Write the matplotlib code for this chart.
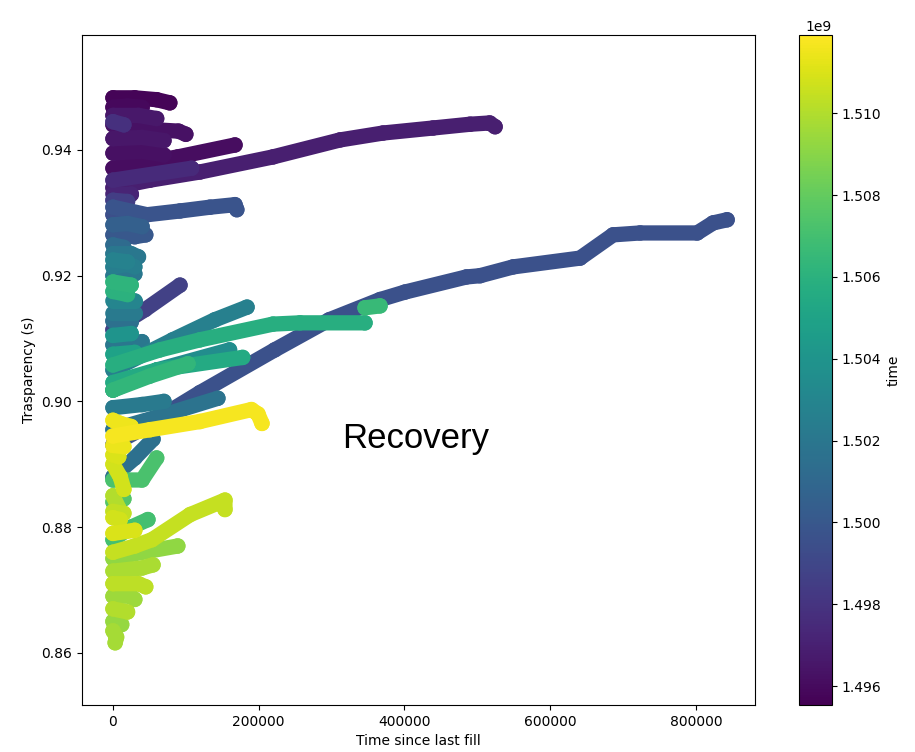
import numpy as np
import matplotlib
matplotlib.use('Agg')
import matplotlib.pyplot as plt
from matplotlib.colors import Normalize
from matplotlib.ticker import ScalarFormatter

# one entry per fill: fill start time (colour), time since last fill, transparency
fill_times = [1.4957e9, 1.4959e9, 1.4978e9, 1.4963e9, 1.4965e9, 1.4961e9, 1.4969e9, 1.4975e9,
              1.4962e9, 1.4972e9, 1.4985e9, 1.4998e9, 1.4995e9, 1.5005e9, 1.5000e9, 1.5012e9,
              1.5020e9, 1.5025e9, 1.5062e9, 1.5060e9, 1.5020e9, 1.4987e9, 1.5030e9, 1.5022e9,
              1.5015e9, 1.5020e9, 1.5050e9, 1.5026e9, 1.5058e9, 1.5066e9, 1.5035e9, 1.5055e9,
              1.5063e9, 1.5018e9, 1.5022e9, 1.4996e9, 1.5117e9, 1.5115e9, 1.5114e9, 1.5015e9,
              1.5072e9, 1.5108e9, 1.5110e9, 1.5100e9, 1.5075e9, 1.5108e9, 1.5070e9, 1.5105e9,
              1.5092e9, 1.5110e9, 1.5098e9, 1.5103e9, 1.5095e9, 1.5100e9, 1.5093e9, 1.5097e9,
              1.4966e9, 1.5028e9, 1.5040e9, 1.5104e9]

fill_x = [
    [0, 30000, 60000, 78000],
    [0, 20000, 40000],
    [0, 15000],
    [0, 30000, 60000, 90000, 100000],
    [0, 40000, 70000],
    [0, 89000, 167500],
    [0, 50800, 119400, 219600, 311600, 370600, 439300, 490100, 517000, 524400],
    [0, 108000],
    [0, 40000, 70000],
    [0, 25000],
    [0, 20000],
    [0, 46700, 92000, 133200, 167500, 170000],
    [0, 30000],
    [0, 20000, 40000],
    [0, 30000, 45000],
    [0, 15000],
    [0, 25000, 35000],
    [0, 20000, 30000],
    [0, 25000],
    [0, 20000],
    [0, 30000],
    [0, 44000, 92000],
    [0, 30000],
    [0, 30000],
    [0, 25000],
    [0, 40000],
    [0, 30000],
    [0, 82000, 140000, 184000],
    [0, 64500, 119400, 219600, 256700, 345900],
    [345900, 366500],
    [0, 60000, 160000],
    [0, 60000, 178000],
    [0, 50000, 103000],
    [0, 60000, 144000],
    [0, 40000, 70000],
    [0, 50000, 75500, 119400, 222000, 297000, 366500, 400800, 485000, 503800, 549100,
     641000, 686300, 723400, 801700, 823600, 842800],
    [0, 50800, 119400, 190000, 199000, 204500],
    [0, 10000, 25000],
    [0, 15000],
    [0, 30000, 55000],
    [0, 40000, 60000],
    [0, 10000, 15000],
    [0, 8000],
    [0, 8000],
    [0, 15000],
    [0, 10000],
    [0, 25000, 48000],
    [0, 30000, 53500, 106000, 153700, 153700],
    [0, 40000, 89000],
    [0, 30000],
    [0, 40000, 55000],
    [0, 35000, 45000],
    [0, 25000, 30000],
    [0, 20000],
    [0, 12000],
    [0, 5000, 3000],
    [0, 35000, 60000],
    [0, 20000],
    [0, 25000],
    [0, 15000],
]

fill_y = [
    [0.9483, 0.9483, 0.9480, 0.9475],
    [0.9468, 0.9470, 0.9468],
    [0.9445, 0.9440],
    [0.9440, 0.9438, 0.9432, 0.9430, 0.9425],
    [0.9418, 0.9420, 0.9415],
    [0.9371, 0.9389, 0.9408],
    [0.9340, 0.9352, 0.9365, 0.9389, 0.9416, 0.9427, 0.9435, 0.9441, 0.9443, 0.9437],
    [0.9352, 0.9371],
    [0.9395, 0.9398, 0.9392],
    [0.9330, 0.9330],
    [0.9320, 0.9318],
    [0.9309, 0.9297, 0.9303, 0.9309, 0.9313, 0.9305],
    [0.9297, 0.9295],
    [0.9281, 0.9283, 0.9278],
    [0.9265, 0.9262, 0.9265],
    [0.9249, 0.9245],
    [0.9235, 0.9235, 0.9230],
    [0.9214, 0.9218, 0.9214],
    [0.9190, 0.9185],
    [0.9175, 0.9170],
    [0.9200, 0.9203],
    [0.9114, 0.9146, 0.9185],
    [0.9160, 0.9160],
    [0.9140, 0.9140],
    [0.9128, 0.9126],
    [0.9090, 0.9095],
    [0.9075, 0.9078],
    [0.9050, 0.9098, 0.9130, 0.9150],
    [0.9058, 0.9082, 0.9098, 0.9123, 0.9125, 0.9125],
    [0.9149, 0.9152],
    [0.9018, 0.9050, 0.9082],
    [0.9030, 0.9050, 0.9070],
    [0.9018, 0.9040, 0.9060],
    [0.8955, 0.8975, 0.9005],
    [0.8990, 0.8995, 0.9000],
    [0.8931, 0.8963, 0.8983, 0.9014, 0.9082, 0.9130, 0.9162, 0.9174, 0.9198, 0.9200, 0.9214,
     0.9228, 0.9265, 0.9268, 0.9268, 0.9284, 0.9289],
    [0.8945, 0.8955, 0.8968, 0.8987, 0.8980, 0.8965],
    [0.8970, 0.8965, 0.8960],
    [0.8930, 0.8928],
    [0.8880, 0.8910, 0.8940],
    [0.8875, 0.8875, 0.8910],
    [0.8900, 0.8880, 0.8860],
    [0.8915, 0.8912],
    [0.8850, 0.8830],
    [0.8840, 0.8845],
    [0.8815, 0.8812],
    [0.8780, 0.8800, 0.8812],
    [0.8760, 0.8770, 0.8780, 0.8820, 0.8843, 0.8828],
    [0.8750, 0.8760, 0.8770],
    [0.8790, 0.8795],
    [0.8730, 0.8735, 0.8740],
    [0.8710, 0.8710, 0.8705],
    [0.8690, 0.8690, 0.8685],
    [0.8670, 0.8665],
    [0.8650, 0.8645],
    [0.8635, 0.8625, 0.8616],
    [0.9455, 0.9455, 0.9450],
    [0.9225, 0.9222],
    [0.9105, 0.9108],
    [0.8825, 0.8822],
]

cbar_ticks = [1.496e9, 1.498e9, 1.500e9, 1.502e9, 1.504e9, 1.506e9, 1.508e9, 1.510e9]

fig = plt.figure(figsize=(9.15, 7.52), dpi=100)
ax = fig.add_axes([0.0896, 0.0625, 0.7355, 0.891])
cax = fig.add_axes([0.8732, 0.0625, 0.036, 0.891])

cmap = plt.get_cmap('viridis')
norm = Normalize(vmin=1.49554e9, vmax=1.51191e9)

sc = None
for i in np.argsort(fill_times, kind='stable'):
    t = fill_times[i]
    xs = fill_x[i]; ys = fill_y[i]
    ax.plot(xs, ys, color=cmap(norm(t)), lw=11, solid_capstyle='round',
            solid_joinstyle='round', zorder=2)
    sc = ax.scatter(xs, ys, c=[t] * len(xs), cmap=cmap, norm=norm, s=125,
                    linewidths=0, zorder=2)

ax.set_xlim(-42500, 881000)
ax.set_ylim(0.8517, 0.9583)
ax.set_xticks([0, 200000, 400000, 600000, 800000])
ax.set_yticks([0.86, 0.88, 0.90, 0.92, 0.94])
ax.set_xlabel('Time since last fill')
ax.set_ylabel('Trasparency (s)')
ax.text(416000, 0.8941, 'Recovery', fontsize=25, family='Liberation Sans',
        ha='center', va='center')

cb = fig.colorbar(sc, cax=cax)
fmt = ScalarFormatter(useOffset=False)
fmt.set_powerlimits((-3, 3))
cb.formatter = fmt
cb.set_ticks(cbar_ticks)
cb.update_ticks()
cb.set_label('time')

fig.savefig('out.png', dpi=100)
